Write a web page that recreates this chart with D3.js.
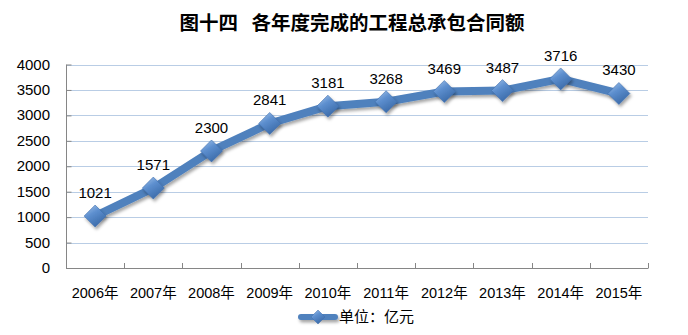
<!DOCTYPE html>
<html>
<head>
<meta charset="utf-8">
<script src="https://cdn.jsdelivr.net/npm/d3@7/dist/d3.min.js"></script>
<style>
  html, body { margin: 0; padding: 0; background: #fff; }
  svg { display: block; }
  text { font-family: "Liberation Sans", "Noto Sans CJK SC", sans-serif; fill: #000; }
</style>
</head>
<body>
<svg id="chart" width="688" height="335"></svg>
<script>
// Contract value completed each year (unit: 亿元)
const years = ["2006年", "2007年", "2008年", "2009年", "2010年", "2011年", "2012年", "2013年", "2014年", "2015年"];
const values = [1021, 1571, 2300, 2841, 3181, 3268, 3469, 3487, 3716, 3430];
const yTicks = [0, 500, 1000, 1500, 2000, 2500, 3000, 3500, 4000];
const titleText = "图十四\u00a0\u00a0 各年度完成的工程总承包合同额";
const legendText = "单位：亿元";

const svg = d3.select("#chart");
const plot = { left: 66, right: 648, top: 64.5, bottom: 268 };

const x = d3.scaleBand().domain(years).range([plot.left, plot.right]);
const y = d3.scaleLinear().domain([0, 4000]).range([plot.bottom, plot.top]);

// defs: drop shadow + marker gradient
const defs = svg.append("defs");
const shadow = defs.append("filter").attr("id", "shadow")
  .attr("filterUnits", "userSpaceOnUse")
  .attr("x", 0).attr("y", 0).attr("width", 688).attr("height", 335);
shadow.append("feDropShadow")
  .attr("dx", 1.5).attr("dy", 2.5).attr("stdDeviation", 1.6)
  .attr("flood-color", "#000").attr("flood-opacity", 0.35);

const grad = defs.append("linearGradient").attr("id", "diamondFill")
  .attr("x1", "0").attr("y1", "0").attr("x2", "0.6").attr("y2", "1");
grad.append("stop").attr("offset", "0%").attr("stop-color", "#a9c8ec");
grad.append("stop").attr("offset", "45%").attr("stop-color", "#5d8fcf");
grad.append("stop").attr("offset", "100%").attr("stop-color", "#3a6aa8");

// title
svg.append("text")
  .attr("x", 352).attr("y", 30)
  .attr("text-anchor", "middle")
  .style("font-family", "'Noto Sans CJK SC', sans-serif")
  .style("font-weight", 700)
  .style("font-size", "19.5px")
  .text(titleText);

// horizontal gridlines
svg.append("g").selectAll("line").data(yTicks.filter(d => d > 0)).join("line")
  .attr("x1", plot.left).attr("x2", plot.right)
  .attr("y1", d => Math.round(y(d)) + 0.5).attr("y2", d => Math.round(y(d)) + 0.5)
  .attr("stroke", "#b9cde5").attr("stroke-width", 1.2);

// y axis
const yAxis = svg.append("g")
  .attr("transform", `translate(${plot.left + 0.5},0)`)
  .call(d3.axisRight(y).tickValues(yTicks).tickSize(5).tickFormat(""));
yAxis.select(".domain").attr("stroke", "#868686").attr("d", `M0,${plot.top}V${plot.bottom + 0.5}`);
yAxis.selectAll(".tick line").attr("stroke", "#868686");

svg.append("g").selectAll("text").data(yTicks).join("text")
  .attr("x", 50).attr("y", d => y(d) + 5)
  .attr("text-anchor", "end")
  .style("font-size", "15px")
  .text(d => d);

// x axis with ticks on category boundaries
const xg = svg.append("g");
xg.append("line")
  .attr("x1", plot.left).attr("x2", plot.right + 0.5)
  .attr("y1", plot.bottom + 0.5).attr("y2", plot.bottom + 0.5)
  .attr("stroke", "#868686");
const boundaries = years.map(d => x(d)).concat([x.range()[1]]);
xg.selectAll("line.tk").data(boundaries.slice(1)).join("line").attr("class", "tk")
  .attr("x1", d => Math.round(d) + 0.5).attr("x2", d => Math.round(d) + 0.5)
  .attr("y1", plot.bottom - 5).attr("y2", plot.bottom)
  .attr("stroke", "#868686");
xg.selectAll("text").data(years).join("text")
  .attr("x", d => x(d) + x.bandwidth() / 2)
  .attr("y", 298)
  .attr("text-anchor", "middle")
  .style("font-size", "14.5px")
  .text(d => d);

// series line
const cx = i => x(years[i]) + x.bandwidth() / 2;
const line = d3.line().x((d, i) => cx(i)).y(d => y(d));
svg.append("path")
  .datum(values)
  .attr("d", line)
  .attr("fill", "none")
  .attr("stroke", "#4f81bd")
  .attr("stroke-width", 8)
  .attr("stroke-linejoin", "round")
  .attr("filter", "url(#shadow)");

// diamond markers
const diamond = (px, py, r) => `M${px},${py - r}L${px + r},${py}L${px},${py + r}L${px - r},${py}Z`;
svg.append("g").selectAll("path").data(values).join("path")
  .attr("d", (d, i) => diamond(cx(i), y(d), 11))
  .attr("fill", "url(#diamondFill)")
  .attr("stroke", "#3f6fae").attr("stroke-width", 0.6)
  .attr("filter", "url(#shadow)");

// value labels
svg.append("g").selectAll("text").data(values).join("text")
  .attr("x", (d, i) => cx(i))
  .attr("y", d => y(d) - 18)
  .attr("text-anchor", "middle")
  .style("font-size", "15px")
  .text(d => d);

// legend
const lg = svg.append("g");
lg.append("line")
  .attr("x1", 301).attr("x2", 335).attr("y1", 317).attr("y2", 317)
  .attr("stroke", "#4f81bd").attr("stroke-width", 6).attr("stroke-linecap", "round")
  .attr("filter", "url(#shadow)");
lg.append("path")
  .attr("d", diamond(318, 317, 7))
  .attr("fill", "url(#diamondFill)")
  .attr("stroke", "#3f6fae").attr("stroke-width", 0.5);
lg.append("text")
  .attr("x", 339).attr("y", 322)
  .style("font-family", "'Noto Sans CJK SC', sans-serif")
  .style("font-size", "15px")
  .text(legendText);
</script>
</body>
</html>
